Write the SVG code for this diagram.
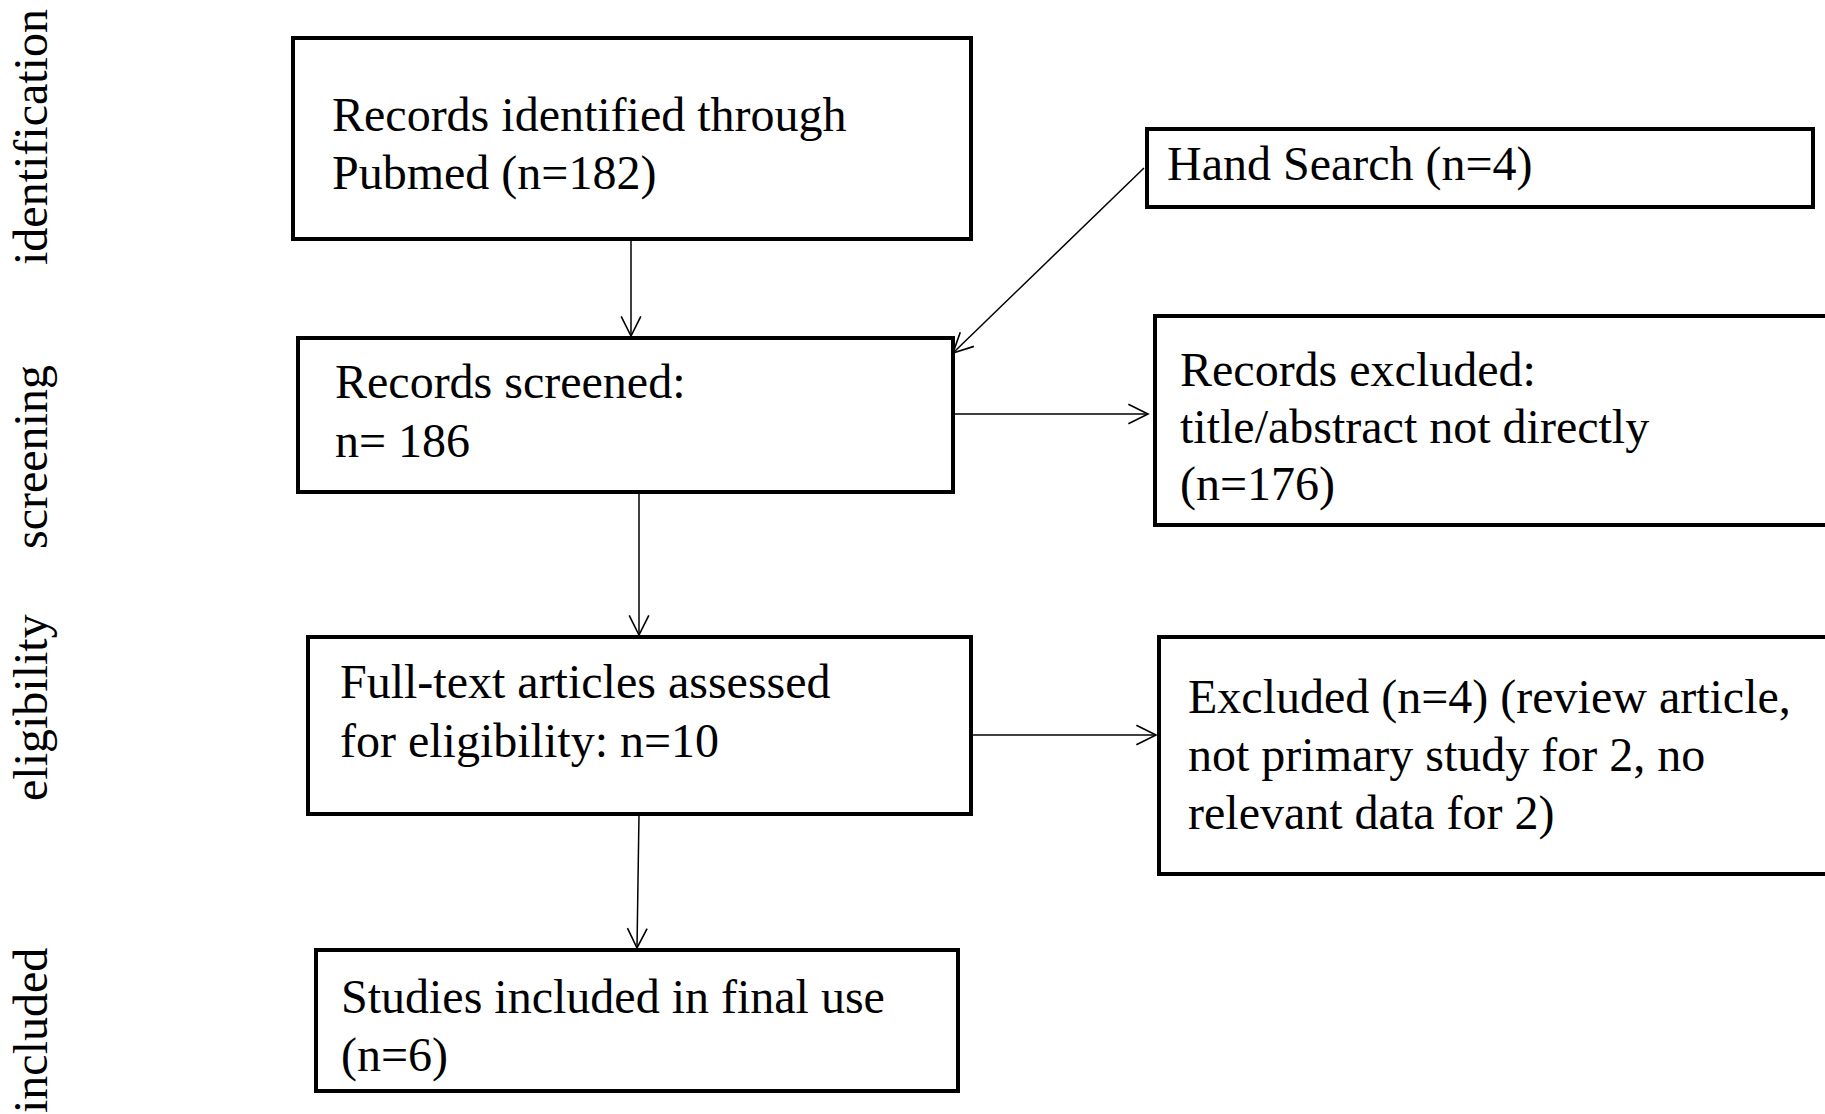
<svg xmlns="http://www.w3.org/2000/svg" width="1825" height="1114" viewBox="0 0 1825 1114">
<style>
.box{fill:#fff;stroke:#000;stroke-width:4}
.t{font-family:"Liberation Serif","Times New Roman",serif;font-size:48px;fill:#000}
.side{font-family:"Liberation Serif","Times New Roman",serif;font-size:48px;fill:#000}
.c{fill:none;stroke:#000;stroke-width:1.5}
</style>
<defs>
<marker id="ah" markerUnits="userSpaceOnUse" markerWidth="24" markerHeight="24" viewBox="-20 -11 22 22" refX="0" refY="0" orient="auto">
<path d="M-18,-9 L0,0 L-18,9" fill="none" stroke="#000" stroke-width="1.5"/>
</marker>
</defs>
<rect width="1825" height="1114" fill="#fff"/>
<g id="side-labels">
<text class="side" transform="translate(47,265) rotate(-90)">identification</text>
<text class="side" transform="translate(47,549) rotate(-90)">screening</text>
<text class="side" transform="translate(47,801) rotate(-90)">eligibility</text>
<text class="side" transform="translate(47,1113) rotate(-90)">included</text>
</g>
<g id="connectors">
<line class="c" x1="631" y1="239" x2="631" y2="336" marker-end="url(#ah)"/>
<line class="c" x1="1144" y1="168" x2="953" y2="353" marker-end="url(#ah)"/>
<line class="c" x1="953" y1="414" x2="1148" y2="414" marker-end="url(#ah)"/>
<line class="c" x1="639" y1="492" x2="639" y2="635" marker-end="url(#ah)"/>
<line class="c" x1="971" y1="735" x2="1156" y2="735" marker-end="url(#ah)"/>
<line class="c" x1="639" y1="814" x2="637" y2="948" marker-end="url(#ah)"/>
</g>
<g id="n-pubmed">
<rect class="box" x="293" y="38" width="678" height="201"/>
<text class="t" x="332" y="131">Records identified through</text>
<text class="t" x="332" y="189">Pubmed (n=182)</text>
</g>
<g id="n-hand">
<rect class="box" x="1147" y="129" width="666" height="78"/>
<text class="t" x="1167" y="180">Hand Search (n=4)</text>
</g>
<g id="n-screened">
<rect class="box" x="298" y="338" width="655" height="154"/>
<text class="t" x="335" y="398">Records screened:</text>
<text class="t" x="335" y="457">n= 186</text>
</g>
<g id="n-excluded1">
<rect class="box" x="1155" y="316" width="690" height="209"/>
<text class="t" x="1180" y="386">Records excluded:</text>
<text class="t" x="1180" y="443">title/abstract not directly</text>
<text class="t" x="1180" y="500">(n=176)</text>
</g>
<g id="n-fulltext">
<rect class="box" x="308" y="637" width="663" height="177"/>
<text class="t" x="340" y="698">Full-text articles assessed</text>
<text class="t" x="340" y="757">for eligibility: n=10</text>
</g>
<g id="n-excluded2">
<rect class="box" x="1159" y="637" width="690" height="237"/>
<text class="t" x="1188" y="713">Excluded (n=4) (review article,</text>
<text class="t" x="1188" y="771">not primary study for 2, no</text>
<text class="t" x="1188" y="829">relevant data for 2)</text>
</g>
<g id="n-included">
<rect class="box" x="316" y="950" width="642" height="141"/>
<text class="t" x="341" y="1013">Studies included in final use</text>
<text class="t" x="341" y="1071">(n=6)</text>
</g>
</svg>
